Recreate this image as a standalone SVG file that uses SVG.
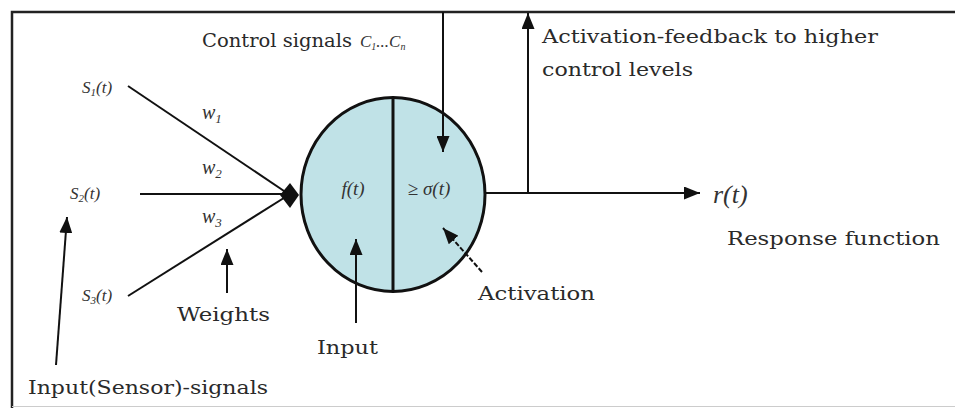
<svg xmlns="http://www.w3.org/2000/svg" width="955" height="408" viewBox="0 0 955 408">
<defs>
<marker id="ah" viewBox="0 0 16 13" refX="16" refY="6.5" markerWidth="16" markerHeight="13" markerUnits="userSpaceOnUse" orient="auto">
<path d="M0,0 L16,6.5 L0,13 z" fill="#111"/>
</marker>
</defs>
<style>
.t{font-family:"DejaVu Serif","Liberation Serif",serif;font-size:19px;fill:#2a2a2a}
.m{font-family:"Liberation Serif","DejaVu Serif",serif;font-style:italic;fill:#333}
.ln{stroke:#111;stroke-width:2;fill:none}
.ar{stroke:#111;stroke-width:2;fill:none;marker-end:url(#ah)}
</style>
<rect width="955" height="408" fill="#fff"/>
<g id="frame">
<path d="M12,408 L12,12 L955,12" stroke="#222" stroke-width="2.5" fill="none"/>
<line x1="12" y1="406.5" x2="955" y2="406.5" stroke="#ccc" stroke-width="1"/>
</g>
<g id="neuron">
<ellipse cx="393" cy="194.5" rx="92" ry="97" fill="#c0e2e7" stroke="#111" stroke-width="3"/>
<line x1="393" y1="97.5" x2="393" y2="291.5" stroke="#111" stroke-width="3"/>
<text class="m" x="353" y="195" font-size="19" text-anchor="middle">f(t)</text>
<text class="m" x="429" y="195" font-size="19" text-anchor="middle" font-style="normal">≥ <tspan font-style="italic">σ(t)</tspan></text>
</g>
<g id="junction">
<path d="M280,195 L290,183 L299,195 L290,208 z" fill="#111"/>
</g>
<g id="inputs">
<text class="m" x="82" y="93" font-size="17">S<tspan font-size="11" dy="3">1</tspan><tspan dy="-3">(t)</tspan></text>
<text class="m" x="70" y="199" font-size="17">S<tspan font-size="11" dy="3">2</tspan><tspan dy="-3">(t)</tspan></text>
<text class="m" x="82" y="301" font-size="17">S<tspan font-size="11" dy="3">3</tspan><tspan dy="-3">(t)</tspan></text>
<text class="m" x="202" y="119" font-size="20">w<tspan font-size="13" dy="4">1</tspan></text>
<text class="m" x="202" y="174" font-size="20">w<tspan font-size="13" dy="4">2</tspan></text>
<text class="m" x="202" y="223" font-size="20">w<tspan font-size="13" dy="4">3</tspan></text>
</g>
<g id="connectors">
<line class="ln" x1="128" y1="86" x2="287" y2="193"/>
<line class="ln" x1="140" y1="194" x2="287" y2="194" stroke-width="2.5"/>
<line class="ln" x1="128" y1="296" x2="287" y2="196"/>
<line class="ar" x1="443" y1="12" x2="443" y2="152"/>
<line class="ar" x1="485" y1="193" x2="700" y2="193"/>
<line class="ar" x1="528" y1="193" x2="528" y2="13"/>
<line class="ar" x1="56" y1="365" x2="67" y2="217"/>
<line class="ar" x1="227" y1="293" x2="227" y2="249"/>
<line class="ar" x1="356" y1="323" x2="356" y2="239"/>
<line class="ar" x1="482" y1="272" x2="443" y2="228" stroke-width="1.5" stroke-dasharray="5,2"/>
</g>
<g id="labels">
<text class="t" x="202" y="47" textLength="150" lengthAdjust="spacingAndGlyphs">Control signals</text>
<text class="m" x="360" y="47" font-size="17">C<tspan font-size="10" dy="3">1</tspan><tspan dy="-3">...C</tspan><tspan font-size="10" dy="3">n</tspan></text>
<text class="t" x="542" y="43" textLength="336" lengthAdjust="spacingAndGlyphs">Activation-feedback to higher</text>
<text class="t" x="542" y="76" textLength="151" lengthAdjust="spacingAndGlyphs">control levels</text>
<text class="m" x="713" y="203" font-size="26">r(t)</text>
<text class="t" x="727" y="245" textLength="213" lengthAdjust="spacingAndGlyphs">Response function</text>
<text class="t" x="478" y="300" textLength="117" lengthAdjust="spacingAndGlyphs">Activation</text>
<text class="t" x="177" y="321" textLength="93" lengthAdjust="spacingAndGlyphs">Weights</text>
<text class="t" x="317" y="354" textLength="61" lengthAdjust="spacingAndGlyphs">Input</text>
<text class="t" x="28" y="394" textLength="240" lengthAdjust="spacingAndGlyphs">Input(Sensor)-signals</text>
</g>
</svg>
